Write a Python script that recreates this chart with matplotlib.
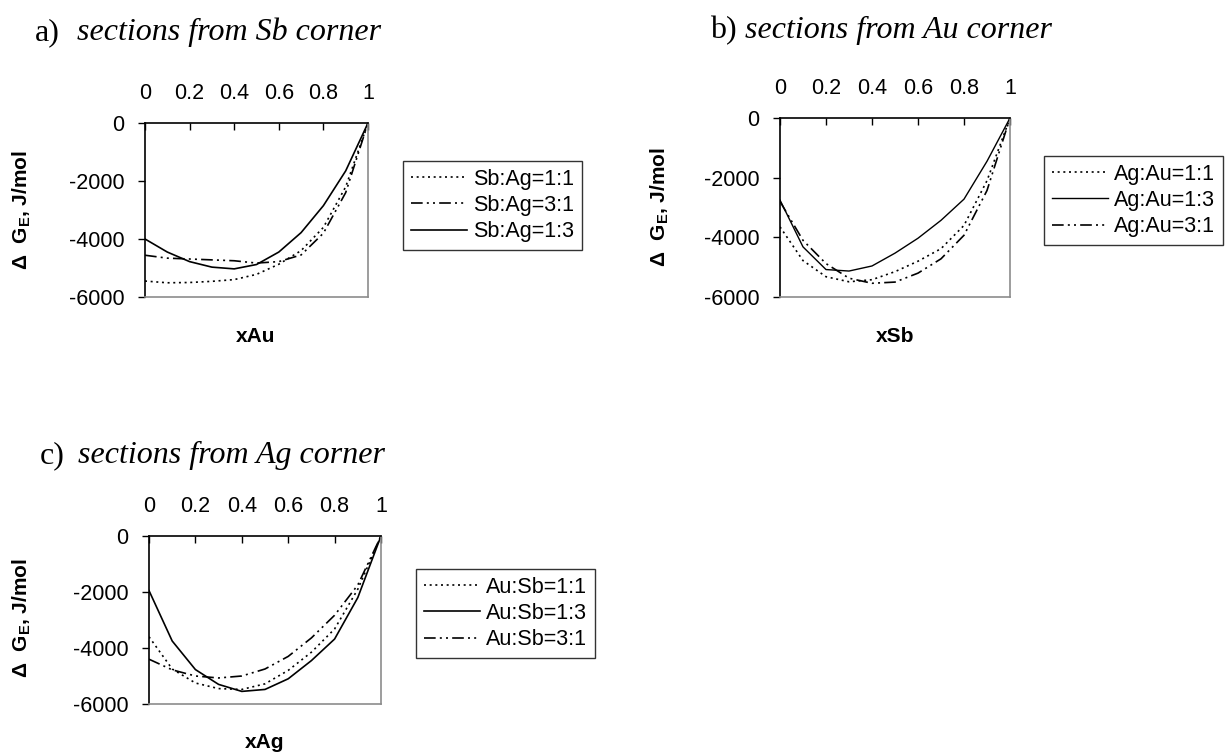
import matplotlib
matplotlib.use("Agg")
import matplotlib.pyplot as plt

W, H = 1226, 754

# ---------------- data ----------------
x = [0.0, 0.1, 0.2, 0.3, 0.4, 0.5, 0.6, 0.7, 0.8, 0.9, 1.0]

# a) sections from Sb corner (x = xAu)
a_11 = [-5450, -5510, -5500, -5460, -5400, -5220, -4870, -4400, -3600, -2200, 0]
a_31 = [-4560, -4660, -4690, -4720, -4750, -4830, -4780, -4550, -3800, -2400, 0]
a_13 = [-4000, -4450, -4780, -4970, -5030, -4880, -4450, -3780, -2850, -1650, 0]
a_labels = ["Sb:Ag=1:1", "Sb:Ag=3:1", "Sb:Ag=1:3"]

# b) sections from Au corner (x = xSb)
b_11 = [-3650, -4780, -5320, -5490, -5420, -5150, -4800, -4380, -3600, -2100, 0]
b_13 = [-2750, -4320, -5080, -5130, -4960, -4530, -4030, -3430, -2720, -1450, 0]
b_31 = [-2800, -4100, -4880, -5370, -5540, -5500, -5200, -4720, -3930, -2430, 0]
b_labels = ["Ag:Au=1:1", "Ag:Au=1:3", "Ag:Au=3:1"]

# c) sections from Ag corner (x = xAg)
c_11 = [-3600, -4750, -5250, -5450, -5480, -5280, -4800, -4150, -3320, -1900, 0]
c_13 = [-1950, -3750, -4770, -5300, -5550, -5480, -5100, -4450, -3680, -2200, 0]
c_31 = [-4400, -4780, -5000, -5070, -5000, -4750, -4300, -3640, -2830, -1750, 0]
c_labels = ["Au:Sb=1:1", "Au:Sb=1:3", "Au:Sb=3:1"]

xticks = [0, 0.2, 0.4, 0.6, 0.8, 1]
xticklabels = ["0", "0.2", "0.4", "0.6", "0.8", "1"]
yticks = [-6000, -4000, -2000, 0]
yticklabels = ["-6000", "-4000", "-2000", "0"]

# ---------------- styling ----------------
plt.rcParams['font.family'] = ['Liberation Sans', 'DejaVu Sans']
plt.rcParams['mathtext.fontset'] = 'custom'
plt.rcParams['mathtext.rm'] = 'Liberation Sans:bold'
plt.rcParams['mathtext.bf'] = 'Liberation Sans:bold'

DOT = (0, (1.2, 2.2))
DASHDOT = (0, (7, 2.5, 1.2, 2.5, 1.2, 2.5))
SOLID = '-'
LW = 1.2
TICK_FS = 15.5
LEG_FS = 15.5
LAB_FS = 15

fig = plt.figure(figsize=(W / 100, H / 100), dpi=100)


def make_axes(l, t, r, b):
    ax = fig.add_axes([l / W, 1 - b / H, (r - l) / W, (b - t) / H])
    ax.set_xlim(0, 1)
    ax.set_ylim(-6000, 0)
    ax.xaxis.tick_top()
    ax.set_xticks(xticks)
    ax.set_xticklabels(xticklabels)
    ax.set_yticks(yticks)
    ax.set_yticklabels(yticklabels)
    ax.tick_params(axis='x', direction='in', length=5, width=1, pad=14,
                   labelsize=TICK_FS)
    ax.tick_params(axis='y', direction='out', length=5, width=1, pad=10,
                   labelsize=TICK_FS)
    ax.spines['left'].set_color('black')
    ax.spines['top'].set_color('black')
    ax.spines['right'].set_color('#8c8c8c')
    ax.spines['bottom'].set_color('#8c8c8c')
    for s in ax.spines.values():
        s.set_linewidth(1.2)
    return ax


def add_legend(ax, l, t, handles, labels):
    leg = fig.legend(handles, labels, loc='upper left',
                     bbox_to_anchor=(l / W, 1 - t / H),
                     bbox_transform=fig.transFigure,
                     fontsize=LEG_FS, handlelength=2.6, handletextpad=0.3,
                     labelspacing=0.25, borderpad=0.35, borderaxespad=0,
                     fancybox=False, frameon=True)
    fr = leg.get_frame()
    fr.set_edgecolor('black')
    fr.set_linewidth(1.0)
    return leg


ylab = r'$\Delta$  G$_{\mathregular{E}}$, J/mol'


def title(xl, xs, yb, letter, text):
    fig.text(xl / W, 1 - yb / H, letter, fontsize=23,
             family='Liberation Serif', va='baseline', ha='left')
    fig.text(xs / W, 1 - yb / H, text, fontsize=23,
             family='Liberation Serif', style='italic', va='baseline',
             ha='left')


# ---- panel a ----
ax = make_axes(145, 123, 368, 297)
h1, = ax.plot(x, a_11, color='black', lw=LW, ls=DOT)
h2, = ax.plot(x, a_31, color='black', lw=LW, ls=DASHDOT)
h3, = ax.plot(x, a_13, color='black', lw=LW, ls=SOLID)
add_legend(ax, 403, 161, [h1, h2, h3], a_labels)
fig.text(22 / W, 1 - 210 / H, ylab, rotation=90, fontsize=LAB_FS,
         fontweight='bold', ha='center', va='center')
fig.text(256 / W, 1 - 337 / H, 'xAu', fontsize=LAB_FS, fontweight='bold',
         ha='center', va='center')
title(35, 77, 40, 'a)', 'sections from Sb corner')

# ---- panel b ----
ax = make_axes(780, 118, 1010, 297)
h1, = ax.plot(x, b_11, color='black', lw=LW, ls=DOT)
h2, = ax.plot(x, b_13, color='black', lw=1.0, ls=SOLID)
h3, = ax.plot(x, b_31, color='black', lw=LW, ls=DASHDOT)
add_legend(ax, 1044, 156, [h1, h2, h3], b_labels)
fig.text(660 / W, 1 - 207 / H, ylab, rotation=90, fontsize=LAB_FS,
         fontweight='bold', ha='center', va='center')
fig.text(895 / W, 1 - 337 / H, 'xSb', fontsize=LAB_FS, fontweight='bold',
         ha='center', va='center')
title(710, 745, 38, 'b)', 'sections from Au corner')

# ---- panel c ----
ax = make_axes(149, 536, 381, 704)
h1, = ax.plot(x, c_11, color='black', lw=LW, ls=DOT)
h2, = ax.plot(x, c_13, color='black', lw=LW, ls=SOLID)
h3, = ax.plot(x, c_31, color='black', lw=LW, ls=DASHDOT)
add_legend(ax, 416, 569, [h1, h2, h3], c_labels)
fig.text(22 / W, 1 - 618 / H, ylab, rotation=90, fontsize=LAB_FS,
         fontweight='bold', ha='center', va='center')
fig.text(265 / W, 1 - 743 / H, 'xAg', fontsize=LAB_FS, fontweight='bold',
         ha='center', va='center')
title(40, 78, 463, 'c)', 'sections from Ag corner')

fig.savefig('out.png', dpi=100)
